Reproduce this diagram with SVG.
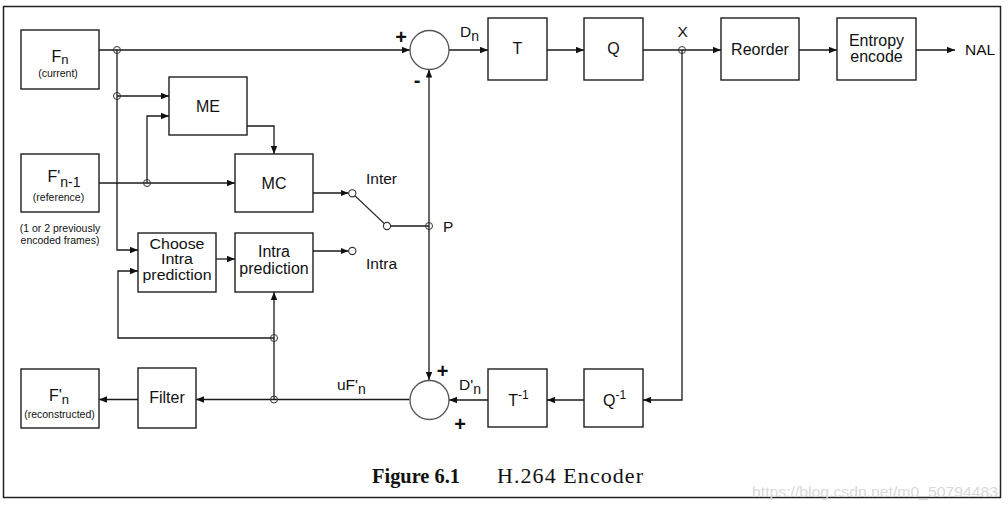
<svg xmlns="http://www.w3.org/2000/svg" width="1008" height="511" viewBox="0 0 1008 511">
<style>
.box{fill:#fff;stroke:#1e1e1e;stroke-width:1.4}
.ln{fill:none;stroke:#1a1a1a;stroke-width:1.3}
.la{fill:none;stroke:#1a1a1a;stroke-width:1.3;marker-end:url(#ah)}
.jn{fill:none;stroke:#333;stroke-width:1}
.sum{fill:#fff;stroke:#555;stroke-width:1.3}
.sw{fill:#fff;stroke:#333;stroke-width:1.1}
text{font-family:"Liberation Sans",Arial,sans-serif;fill:#111}
.t{font-size:16px;text-anchor:middle}
.tc{font-size:13.8px;text-anchor:middle}
.l{font-size:15.5px}
.s{font-size:10.5px;text-anchor:middle}
.sg{font-size:20px;font-weight:bold;text-anchor:middle}
.cap{font-family:"Liberation Serif","Times New Roman",serif;font-size:22px}
</style>
<defs>
<marker id="ah" markerUnits="userSpaceOnUse" markerWidth="9" markerHeight="7" refX="8" refY="3.5" orient="auto">
<path d="M0,0.3 L8,3.5 L0,6.7 z" fill="#111"/>
</marker>
</defs>
<rect x="3.5" y="6.5" width="997" height="491" fill="#fff" stroke="#222" stroke-width="1.5"/>

<g id="connectors">
<path class="la" d="M99,50 H410"/>
<path class="la" d="M117,50 V250 H138"/>
<path class="la" d="M117,96 H169"/>
<path class="la" d="M99,183 H235"/>
<path class="la" d="M147,183 V116 H169"/>
<path class="la" d="M247,126 H274 V154"/>
<path class="la" d="M313,193 H348.5"/>
<path class="ln" d="M354.8,195.6 L384.3,223.6"/>
<path class="ln" d="M390.5,226 H429"/>
<path class="la" d="M429,226 V69.5"/>
<path class="la" d="M429,226 V380"/>
<path class="la" d="M449,50 H488"/>
<path class="la" d="M547,50 H584"/>
<path class="la" d="M643,50 H721"/>
<path class="la" d="M799,50 H837"/>
<path class="la" d="M916,50 H955"/>
<path class="la" d="M682,50 V400 H643"/>
<path class="la" d="M584,400 H547"/>
<path class="la" d="M488,400 H449"/>
<path class="la" d="M409.5,399.5 H196"/>
<path class="la" d="M138,399.5 H99"/>
<path class="la" d="M274,399.5 V292"/>
<path class="la" d="M274,338 H118 V271 H138"/>
<path class="la" d="M216,259 H235"/>
<path class="la" d="M313,251 H348.5"/>
<circle class="jn" cx="117" cy="50" r="3.5"/>
<circle class="jn" cx="117" cy="96" r="3.5"/>
<circle class="jn" cx="147" cy="183" r="3.5"/>
<circle class="jn" cx="429" cy="226" r="3.5"/>
<circle class="jn" cx="682" cy="50" r="3.5"/>
<circle class="jn" cx="274" cy="338" r="3.5"/>
<circle class="jn" cx="274" cy="399.5" r="3.5"/>
<circle class="sw" cx="352.3" cy="193.3" r="3.6"/>
<circle class="sw" cx="387" cy="226" r="3.6"/>
<circle class="sw" cx="352.3" cy="251" r="3.6"/>
</g>

<g id="labels">
<text class="sg" x="401" y="44">+</text>
<text class="sg" x="417" y="87">-</text>
<text class="sg" x="442.5" y="378">+</text>
<text class="sg" x="460" y="431">+</text>
<text class="l" x="460" y="37">D<tspan font-size="14" dy="4">n</tspan></text>
<text class="l" x="677.5" y="37" font-size="14">X</text>
<text class="l" x="965" y="55">NAL</text>
<text class="l" x="366" y="183.5">Inter</text>
<text class="l" x="366" y="269">Intra</text>
<text class="l" x="443" y="232">P</text>
<text class="l" x="337" y="390">uF'<tspan font-size="14" dy="3.5">n</tspan></text>
<text class="l" x="459" y="390">D'<tspan font-size="14" dy="3.5">n</tspan></text>
<text class="s" x="60" y="231.5">(1 or 2 previously</text>
<text class="s" x="60" y="243.5">encoded frames)</text>
</g>

<g id="sum-top"><circle class="sum" cx="429.5" cy="50" r="19.5"/></g>
<g id="sum-bottom"><circle class="sum" cx="429.5" cy="400" r="19.5"/></g>

<g id="Fn">
<rect class="box" x="21" y="30" width="78" height="59"/>
<text class="t" x="60" y="61.5">F<tspan font-size="13" dy="2.5">n</tspan></text>
<text class="s" x="58" y="77">(current)</text>
</g>
<g id="Fn-1">
<rect class="box" x="21" y="154" width="78" height="58"/>
<text class="t" x="64" y="182">F'<tspan font-size="14" dy="5">n-1</tspan></text>
<text class="s" x="58.5" y="201">(reference)</text>
</g>
<g id="Fn-rec">
<rect class="box" x="21" y="369" width="78" height="59"/>
<text class="t" x="59" y="401">F'<tspan font-size="13" dy="3">n</tspan></text>
<text class="s" x="59.5" y="418">(reconstructed)</text>
</g>
<g id="ME">
<rect class="box" x="169" y="77" width="78" height="58"/>
<text class="t" x="208" y="111.5">ME</text>
</g>
<g id="MC">
<rect class="box" x="235" y="154" width="78" height="58"/>
<text class="t" x="274" y="188.5">MC</text>
</g>
<g id="choose">
<rect class="box" x="138" y="233" width="78" height="59"/>
<text class="tc" x="177" y="248.5" textLength="55" lengthAdjust="spacingAndGlyphs">Choose</text>
<text class="tc" x="177" y="264" textLength="32" lengthAdjust="spacingAndGlyphs">Intra</text>
<text class="tc" x="177" y="279.5" textLength="69" lengthAdjust="spacingAndGlyphs">prediction</text>
</g>
<g id="intra">
<rect class="box" x="235" y="233" width="78" height="59"/>
<text class="t" x="274" y="257">Intra</text>
<text class="t" x="274" y="273.5">prediction</text>
</g>
<g id="filter">
<rect class="box" x="138" y="368" width="58" height="60"/>
<text class="t" x="167" y="403">Filter</text>
</g>
<g id="T">
<rect class="box" x="488" y="18" width="59" height="62"/>
<text class="t" x="517.5" y="54">T</text>
</g>
<g id="Q">
<rect class="box" x="584" y="18" width="59" height="62"/>
<text class="t" x="613.5" y="54">Q</text>
</g>
<g id="reorder">
<rect class="box" x="721" y="18" width="78" height="62"/>
<text class="t" x="760" y="54.5">Reorder</text>
</g>
<g id="entropy">
<rect class="box" x="837" y="18" width="79" height="62"/>
<text class="t" x="876.5" y="45.5">Entropy</text>
<text class="t" x="876.5" y="61.5">encode</text>
</g>
<g id="Tinv">
<rect class="box" x="488" y="369" width="59" height="58"/>
<text class="t" x="518.5" y="405.5">T<tspan font-size="12" dy="-7">-1</tspan></text>
</g>
<g id="Qinv">
<rect class="box" x="584" y="369" width="59" height="58"/>
<text class="t" x="614.5" y="405.5">Q<tspan font-size="12" dy="-7">-1</tspan></text>
</g>

<g id="caption">
<text class="cap" x="372" y="483" font-weight="bold" textLength="88" lengthAdjust="spacingAndGlyphs">Figure 6.1</text>
<text class="cap" x="497" y="483" textLength="146" lengthAdjust="spacing">H.264 Encoder</text>
<text x="752" y="496.5" font-size="15" style="fill:#d9d9d9" textLength="246" lengthAdjust="spacingAndGlyphs">https://blog.csdn.net/m0_50794483</text>
</g>
</svg>
